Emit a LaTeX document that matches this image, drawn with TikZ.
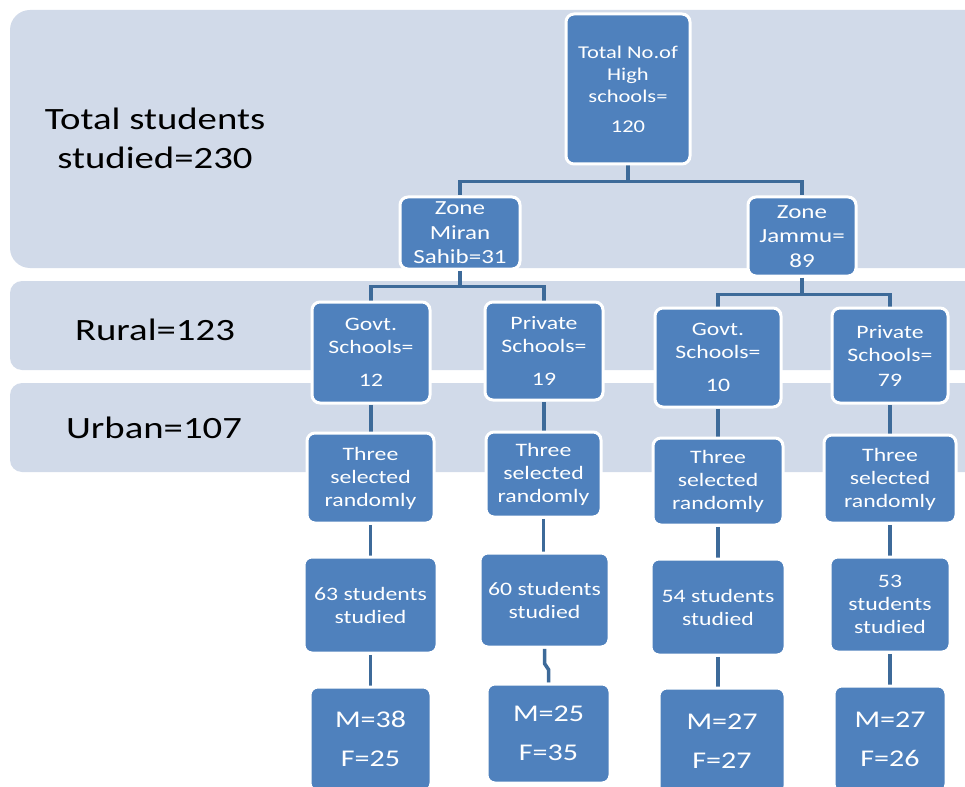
\documentclass[tikz,border=0pt]{standalone}
\usepackage{fontspec}
\setmainfont{Carlito}[FakeStretch=1.25]
\definecolor{bandcol}{HTML}{D1DAE9}
\definecolor{nodeblue}{HTML}{4F81BD}
\definecolor{linecol}{HTML}{3D6A99}
\pgfdeclarelayer{back}
\pgfdeclarelayer{mid}
\pgfsetlayers{back,mid,main}
\newcommand\mybox[7][]{\node[box,#1,minimum width=#5pt,minimum height=#6pt] (#2) at (#3,#4) {#7};}
\begin{document}
\begin{tikzpicture}[x=1pt,y=-1pt,
  box/.style={rectangle, rounded corners=8pt, fill=nodeblue, draw=white, line width=3pt,
    text=white, align=center, inner sep=0pt, font=\fontsize{19}{23}\selectfont},
  topf/.style={font=\fontsize{18}{22}\selectfont},
  zonef/.style={font=\fontsize{20}{24.5}\selectfont},
  big/.style={font=\fontsize{24}{31}\selectfont},
  conn/.style={draw=linecol, line width=3.5pt},
  side/.style={align=center, text=black, font=\fontsize{31}{39}\selectfont},
  bandfill/.style={fill=bandcol}]
\clip (0,0) rectangle (965,786);
% bands
\begin{pgfonlayer}{back}
\fill[bandfill, rounded corners=20pt] (10,10) rectangle (990,268);
\fill[bandfill, rounded corners=12pt] (10,281) rectangle (990,370);
\fill[bandfill, rounded corners=12pt] (10,383) rectangle (990,472);
\end{pgfonlayer}
% side labels
\node[side] (lt) at (155,138) {Total students\\studied=230};
\node[side] (lr) at (155,330) {Rural=123};
\node[side] (lu) at (154,428) {Urban=107};
% nodes
\mybox[topf]{tot}{628}{89}{124}{150}{Total No.of\\High\\schools=\\[8pt]120}
\mybox[zonef]{zm}{460}{233}{120}{72}{Zone\\Miran\\Sahib=31}
\mybox[zonef]{zj}{802}{236.5}{108}{79}{Zone\\Jammu=\\89}
\mybox{g1}{371}{352.5}{118}{101}{Govt.\\Schools=\\[10pt]12}
\mybox{p1}{544}{351}{118}{98}{Private\\Schools=\\[10pt]19}
\mybox{g2}{718}{357.5}{126}{99}{Govt.\\Schools=\\[10pt]10}
\mybox{p2}{890}{355.5}{116}{95}{Private\\Schools=\\[2pt]79}
\mybox{t1}{370.5}{478}{127}{90}{Three\\selected\\randomly}
\mybox{t2}{543.5}{474.5}{115}{85}{Three\\selected\\randomly}
\mybox{t3}{718}{481.5}{130}{87}{Three\\selected\\randomly}
\mybox{t4}{890}{479}{132}{88}{Three\\selected\\randomly}
\mybox{s1}{370.5}{605}{133}{96}{63 students\\studied}
\mybox{s2}{544.5}{600}{129}{94}{60 students\\studied}
\mybox{s3}{718}{607}{134}{96}{54 students\\studied}
\mybox{s4}{890}{604.5}{120}{95}{53\\students\\studied}
\mybox[big]{m1}{370.5}{739}{121}{104}{M=38\\[8pt]F=25}
\mybox[big]{m2}{548.5}{733.5}{123}{99}{M=25\\[8pt]F=35}
\mybox[big]{m3}{722}{741}{126}{106}{M=27\\[8pt]F=27}
\mybox[big]{m4}{890}{739}{112}{106}{M=27\\[8pt]F=26}
% connectors
\begin{pgfonlayer}{mid}
\draw[conn] (tot.south) -- ++(0,16) -| (zm.north);
\draw[conn] (tot.south) -- ++(0,16) -| (zj.north);
\draw[conn] (zm.south) -- ++(0,16) -| (g1.north);
\draw[conn] (zm.south) -- ++(0,16) -| (p1.north);
\draw[conn] (zj.south) -- ++(0,17) -| (g2.north);
\draw[conn] (zj.south) -- ++(0,17) -| (p2.north);
\draw[conn] (g1.south) -- (g1.south |- t1.north);
\draw[conn] (t1.south) -- (t1.south |- s1.north);
\draw[conn] (s1.south) -- (s1.south |- m1.north);
\draw[conn] (p1.south) -- (p1.south |- t2.north);
\draw[conn] (t2.south) -- (t2.south |- s2.north);
\draw[conn] (s2.south) -- ++(0,15) -- ++(4,6) -- (m2.north);
\draw[conn] (g2.south) -- (g2.south |- t3.north);
\draw[conn] (t3.south) -- (t3.south |- s3.north);
\draw[conn] (s3.south) -- (s3.south |- m3.north);
\draw[conn] (p2.south) -- (p2.south |- t4.north);
\draw[conn] (t4.south) -- (t4.south |- s4.north);
\draw[conn] (s4.south) -- (s4.south |- m4.north);
\end{pgfonlayer}
\end{tikzpicture}
\end{document}
